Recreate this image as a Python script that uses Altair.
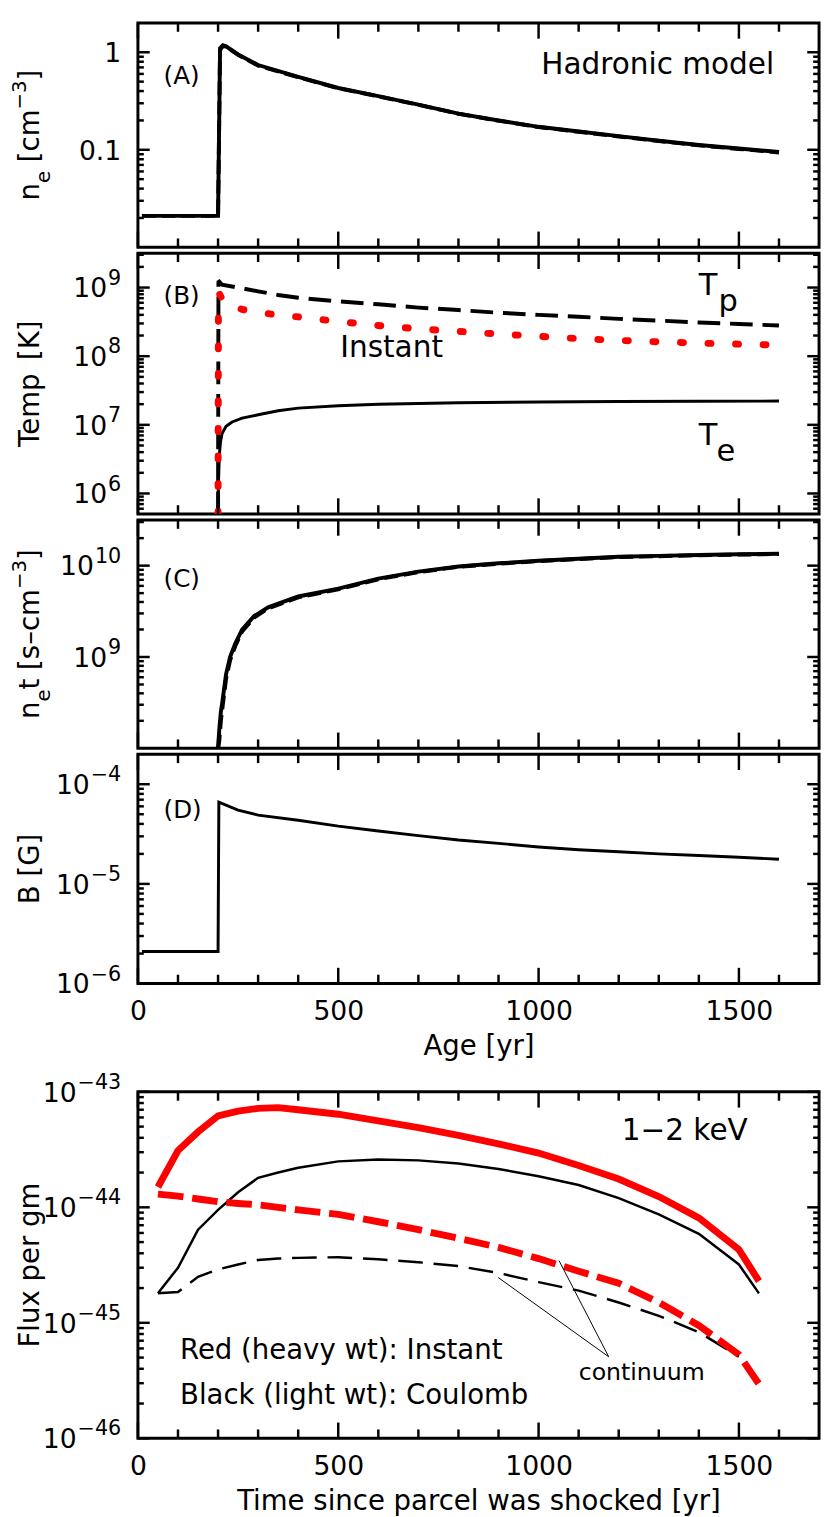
import altair as alt
import pandas as pd

FONT = "DejaVu Sans"
W = 692

# ---------------- data ----------------
# Panel A : electron density
age_A = [10, 200, 205, 212, 220, 250, 300, 400, 500, 600, 700, 800, 900, 1000,
         1100, 1200, 1300, 1400, 1500, 1600]
ne_solid = [0.021, 0.021, 1.1, 1.18, 1.15, 0.95, 0.74, 0.56, 0.43, 0.355, 0.29,
            0.235, 0.2, 0.172, 0.154, 0.138, 0.124, 0.112, 0.103, 0.095]
ne_dash = [0.021, 0.021, 1.05, 1.16, 1.14, 0.94, 0.73, 0.555, 0.428, 0.353, 0.289,
           0.234, 0.199, 0.171, 0.153, 0.137, 0.123, 0.111, 0.102, 0.094]

# Panel B : temperatures
age_Tp = [200, 201, 203, 210, 250, 300, 350, 400, 500, 600, 700, 800, 900, 1000,
          1100, 1200, 1300, 1400, 1500, 1600]
Tp = [5e5, 1.2e9, 1.22e9, 1.1e9, 1.0e9, 8.8e8, 7.8e8, 7.1e8, 6.3e8, 5.7e8, 5.1e8,
      4.7e8, 4.3e8, 4.0e8, 3.75e8, 3.5e8, 3.3e8, 3.1e8, 2.95e8, 2.8e8]
age_Ti = [200, 201, 204, 215, 260, 333, 407, 500, 600, 700, 800, 900, 1000, 1100,
          1200, 1300, 1400, 1500, 1600]
T_inst = [5e5, 7.5e8, 8.0e8, 6.0e8, 4.8e8, 4.1e8, 3.7e8, 3.2e8, 2.8e8, 2.5e8, 2.3e8,
          2.1e8, 1.95e8, 1.8e8, 1.7e8, 1.62e8, 1.55e8, 1.5e8, 1.45e8]
age_Te = [200, 201, 203, 206, 210, 220, 235, 260, 300, 350, 400, 500, 600, 700, 800,
          1000, 1200, 1400, 1600]
Te = [5e5, 1.5e6, 3.5e6, 5.6e6, 7.5e6, 9.5e6, 1.1e7, 1.25e7, 1.4e7, 1.6e7, 1.75e7,
      1.9e7, 2.0e7, 2.05e7, 2.1e7, 2.15e7, 2.18e7, 2.2e7, 2.22e7]

# Panel C : ionization age
age_C = [200, 203, 207, 211, 220, 230, 243, 260, 290, 325, 400, 500, 600, 700, 800,
         900, 1000, 1100, 1200, 1300, 1400, 1500, 1600]
net_solid = [1.0e8, 1.6e8, 2.5e8, 3.3e8, 6.5e8, 1.0e9, 1.4e9, 2.0e9, 2.8e9, 3.5e9,
             4.6e9, 5.6e9, 7.2e9, 8.6e9, 9.8e9, 1.06e10, 1.13e10, 1.19e10, 1.25e10,
             1.28e10, 1.31e10, 1.33e10, 1.35e10]
net_dash = [1.0e8, 1.2e8, 2.0e8, 2.8e8, 5.8e8, 9.2e8, 1.32e9, 1.9e9, 2.7e9, 3.4e9,
            4.5e9, 5.5e9, 7.1e9, 8.5e9, 9.7e9, 1.05e10, 1.12e10, 1.18e10, 1.24e10,
            1.27e10, 1.30e10, 1.32e10, 1.34e10]

# Panel D : magnetic field
age_D = [10, 200, 202, 250, 300, 400, 500, 600, 700, 800, 900, 1000, 1100, 1200,
         1300, 1400, 1500, 1600]
B_field = [2.1e-6, 2.1e-6, 6.6e-5, 5.5e-5, 4.9e-5, 4.35e-5, 3.8e-5, 3.4e-5, 3.05e-5,
           2.76e-5, 2.55e-5, 2.35e-5, 2.2e-5, 2.1e-5, 2.0e-5, 1.93e-5, 1.85e-5, 1.77e-5]

# Panel E : 1-2 keV flux per gram
t_E = [50, 100, 150, 200, 250, 300, 350, 400, 500, 600, 700, 800, 900, 1000, 1100,
       1200, 1300, 1400, 1500, 1550]
flux_inst = [1.5e-44, 3.1e-44, 4.5e-44, 6.2e-44, 6.8e-44, 7.2e-44, 7.3e-44, 7.0e-44,
             6.4e-44, 5.6e-44, 4.9e-44, 4.2e-44, 3.55e-44, 2.95e-44, 2.3e-44, 1.76e-44,
             1.24e-44, 8.1e-45, 4.3e-45, 2.3e-45]
flux_coul = [1.8e-45, 3.0e-45, 6.4e-45, 9.5e-45, 1.35e-44, 1.8e-44, 2.0e-44, 2.2e-44,
             2.5e-44, 2.6e-44, 2.55e-44, 2.4e-44, 2.15e-44, 1.86e-44, 1.56e-44, 1.2e-44,
             8.7e-45, 5.9e-45, 3.2e-45, 1.8e-45]
cont_inst = [1.3e-44, 1.25e-44, 1.18e-44, 1.12e-44, 1.08e-44, 1.05e-44, 1.0e-44,
             9.5e-45, 8.7e-45, 7.5e-45, 6.4e-45, 5.4e-45, 4.5e-45, 3.6e-45, 2.8e-45,
             2.2e-45, 1.5e-45, 9.5e-46, 5.3e-46, 2.95e-46]
t_Ec = [50, 100, 150, 200, 250, 300, 350, 400, 500, 600, 700, 800, 900, 1000, 1100,
        1200, 1300, 1400, 1500]
cont_coul = [1.8e-45, 1.85e-45, 2.5e-45, 2.9e-45, 3.2e-45, 3.5e-45, 3.6e-45, 3.65e-45,
             3.7e-45, 3.55e-45, 3.35e-45, 3.1e-45, 2.7e-45, 2.25e-45, 1.9e-45, 1.5e-45,
             1.15e-45, 8.3e-46, 5.1e-46]

# "continuum" pointer lines (start -> end)
ptr_x = [1175, 1175]
ptr_y = [5.08e-46, 5.08e-46]
ptr_x2 = [1051, 899]
ptr_y2 = [3.46e-45, 2.47e-45]

# ---------------- ticks & tick labels ----------------
X_MAJOR = [0, 500, 1000, 1500]
X_MINOR = [100, 200, 300, 400, 600, 700, 800, 900, 1100, 1200, 1300, 1400, 1600]


def minors(lo_exp, hi_exp, lo, hi):
    out = []
    for e in range(lo_exp, hi_exp + 1):
        for m in range(2, 10):
            v = m * 10.0 ** e
            if lo < v < hi * 0.999:
                out.append(v)
    return out


A_dom = [0.01, 2.0]
A_major = [0.1, 1]
A_base = ["0.1", "1"]
A_exp = ["", ""]
B_dom = [10 ** 5.7, 10 ** 9.5]
B_major = [1e6, 1e7, 1e8, 1e9]
B_base = ["10", "10", "10", "10"]
B_exp = ["6", "7", "8", "9"]
C_dom = [1e8, 10 ** 10.5]
C_major = [1e9, 1e10]
C_base = ["10", "10"]
C_exp = ["9", "10"]
D_dom = [1e-6, 2e-4]
D_major = [1e-6, 1e-5, 1e-4]
D_base = ["10", "10", "10"]
D_exp = ["−6", "−5", "−4"]
E_dom = [1e-46, 1e-43]
E_major = [1e-46, 1e-45, 1e-44, 1e-43]
E_base = ["10", "10", "10", "10"]
E_exp = ["−46", "−45", "−44", "−43"]

# axis titles: (text, font size, baseline shift, gap before)
A_title = [("n", 28, 0, 0), ("e", 20, 12, 0), ("[cm", 28, 0, 1), ("−3", 20, -13, 0),
           ("]", 28, 0, 0)]
B_title = [("Temp", 28, 0, 0), ("[K]", 28, 0, 1)]
C_title = [("n", 28, 0, 0), ("e", 20, 12, 0), ("t", 28, 0, 0), ("[s–cm", 28, 0, 1),
           ("−3", 20, -13, 0), ("]", 28, 0, 0)]
D_title = [("B", 28, 0, 0), ("[G]", 28, 0, 1)]
E_title = [("Flux", 28, 0, 0), ("per", 28, 0, 1), ("gm", 28, 0, 1)]

# DejaVu Sans advance widths (em) used to lay out the composed texts
EM = {" ": 0.318, "(": 0.390, ")": 0.390, "[": 0.390, "]": 0.390, "−": 0.838,
      "–": 0.5, ".": 0.318, "c": 0.550, "e": 0.615, "m": 0.974, "n": 0.634,
      "s": 0.521, "t": 0.392, "p": 0.635, "r": 0.411, "g": 0.635, "l": 0.278,
      "u": 0.634, "x": 0.592, "F": 0.575, "T": 0.611, "K": 0.656, "B": 0.686,
      "G": 0.775}


def tw(s, size):
    return sum(EM.get(ch, 0.636) for ch in s) * size


TITLE_X = -101     # baseline of the rotated y titles, relative to plot left
LABEL_X = -17      # right edge of the y tick labels
EXP_SIZE = 21


def panel(height, ydom, ymajor, ybase, yexp, yminor, title, series, texts,
          xtitle=None, pointers=None):
    xs = alt.Scale(domain=[0, 1700], nice=False, zero=False)
    ys = alt.Scale(type="log", domain=ydom, nice=False)
    if xtitle:
        xaxis = alt.Axis(values=X_MAJOR, title=xtitle, labelPadding=16, format="d",
                         titlePadding=8)
    else:
        xaxis = None

    def X(field="x"):
        return alt.X(field + ":Q", scale=xs, axis=xaxis)

    def Y(field="y"):
        return alt.Y(field + ":Q", scale=ys, axis=None)

    layers = []
    for (xv, yv, style) in series:
        df = pd.DataFrame({"x": xv, "y": yv})
        layers.append(alt.Chart(df).mark_line(clip=True, **style).encode(x=X(), y=Y()))
    if pointers is not None:
        layers.append(alt.Chart(pd.DataFrame(pointers)).mark_rule(
            color="black", strokeWidth=1).encode(x=X(), y=Y(), x2="x2:Q", y2="y2:Q"))
    for (tx, ty, t, size, align) in texts:
        df = pd.DataFrame({"x": [tx], "y": [ty], "t": [t]})
        layers.append(alt.Chart(df).mark_text(
            font=FONT, fontSize=size, align=align, baseline="alphabetic",
            color="black").encode(x=X(), y=Y(), text="t:N"))
    # y tick labels: base number + raised exponent
    for v, b, e in zip(ymajor, ybase, yexp):
        ew = tw(e, EXP_SIZE) + (1 if e else 0)
        df = pd.DataFrame({"y": [v], "t": [b]})
        layers.append(alt.Chart(df).mark_text(
            font=FONT, fontSize=27, align="right", baseline="alphabetic", dy=10,
            color="black").encode(y=Y(), x=alt.value(LABEL_X - ew), text="t:N"))
        if e:
            df = pd.DataFrame({"y": [v], "t": [e]})
            layers.append(alt.Chart(df).mark_text(
                font=FONT, fontSize=EXP_SIZE, align="right", baseline="alphabetic",
                dy=-3, color="black").encode(y=Y(), x=alt.value(LABEL_X), text="t:N"))
    # rotated y title composed of pieces (sub/superscripts)
    total = sum(tw(t, s) + (tw(" ", s) if g else 0) for t, s, _, g in title)
    pos = height / 2 + total / 2
    for t, s, shift, g in title:
        if g:
            pos -= tw(" ", s)
        df = pd.DataFrame({"t": [t]})
        layers.append(alt.Chart(df).mark_text(
            font=FONT, fontSize=s, align="left", baseline="alphabetic", angle=270,
            color="black").encode(x=alt.value(TITLE_X + shift), y=alt.value(pos),
                                  text="t:N"))
        pos -= tw(t, s)
    # inward ticks on all four sides
    tick_w = 2.5
    for vals, ln in ((ymajor, 12), (yminor, 6)):
        df = pd.DataFrame({"y": vals})
        for x0, x1 in ((0, ln), (W, W - ln)):
            layers.append(alt.Chart(df).mark_rule(color="black", strokeWidth=tick_w).encode(
                y=Y(), x=alt.value(x0), x2=alt.value(x1)))
    for vals, ln in ((X_MAJOR, 16), (X_MINOR, 9)):
        df = pd.DataFrame({"x": vals})
        for y0, y1 in ((0, ln), (height, height - ln)):
            layers.append(alt.Chart(df).mark_rule(color="black", strokeWidth=tick_w).encode(
                x=X(), y=alt.value(y0), y2=alt.value(y1)))
    return alt.layer(*layers).properties(width=W, height=height)


BLACK = "black"
RED = "#ff0000"

pA = panel(228, A_dom, A_major, A_base, A_exp, minors(-2, 0, *A_dom), A_title,
           [(age_A, ne_dash, dict(color=BLACK, strokeWidth=4, strokeDash=[14, 6])),
            (age_A, ne_solid, dict(color=BLACK, strokeWidth=4))],
           [(64, 0.47, "(A)", 25, "left"), (1588, 0.6, "Hadronic model", 30, "right")])

pB = panel(265, B_dom, B_major, B_base, B_exp, minors(5, 9, *B_dom), B_title,
           [(age_Te, Te, dict(color=BLACK, strokeWidth=3)),
            (age_Tp, Tp, dict(color=BLACK, strokeWidth=4, strokeDash=[23, 10])),
            (age_Ti, T_inst, dict(color=RED, strokeWidth=7, strokeDash=[3, 25],
                                  strokeCap="round"))],
           [(64, 5.7e8, "(B)", 25, "left"), (505, 9.8e7, "Instant", 30, "left"),
            (1400, 7.9e8, "T", 31, "left"), (1449, 4.5e8, "p", 31, "left"),
            (1400, 5.0e6, "T", 31, "left"), (1444, 3.0e6, "e", 31, "left")])

pC = panel(232, C_dom, C_major, C_base, C_exp, minors(8, 10, *C_dom), C_title,
           [(age_C, net_dash, dict(color=BLACK, strokeWidth=4, strokeDash=[14, 6])),
            (age_C, net_solid, dict(color=BLACK, strokeWidth=4))],
           [(64, 5.8e9, "(C)", 25, "left")])

pD = panel(233, D_dom, D_major, D_base, D_exp, minors(-6, -4, *D_dom), D_title,
           [(age_D, B_field, dict(color=BLACK, strokeWidth=3))],
           [(64, 4.54e-5, "(D)", 25, "left")], xtitle="Age [yr]")

pE = panel(352, E_dom, E_major, E_base, E_exp, minors(-46, -44, *E_dom), E_title,
           [(t_Ec, cont_coul, dict(color=BLACK, strokeWidth=2.5, strokeDash=[25, 11])),
            (t_E, flux_coul, dict(color=BLACK, strokeWidth=2.5)),
            (t_E, cont_inst, dict(color=RED, strokeWidth=7, strokeDash=[26, 9])),
            (t_E, flux_inst, dict(color=RED, strokeWidth=7))],
           [(1522, 3.8e-44, "1−2 keV", 30, "right"),
            (105, 4.9e-46, "Red (heavy wt): Instant", 28, "left"),
            (105, 2.0e-46, "Black (light wt): Coulomb", 28, "left"),
            (1100, 3.2e-46, "continuum", 24, "left")],
           xtitle="Time since parcel was shocked [yr]",
           pointers={"x": ptr_x, "y": ptr_y, "x2": ptr_x2, "y2": ptr_y2})

top = alt.vconcat(pA, pB, pC, pD, spacing=0)
chart = alt.vconcat(top, pE, spacing=8).properties(
    padding={"left": 0, "top": 0, "right": 0, "bottom": 0},
    background="white",
).configure_view(stroke="black", strokeWidth=3).configure_axis(
    labelFont=FONT, titleFont=FONT, labelColor="black", titleColor="black",
    labelFontSize=27, titleFontSize=28, titleFontWeight="normal", grid=False,
    ticks=False, domain=False, labelFlush=False, labelOverlap=False)

chart.save("out.html", embed_options={"renderer": "svg", "actions": False})
